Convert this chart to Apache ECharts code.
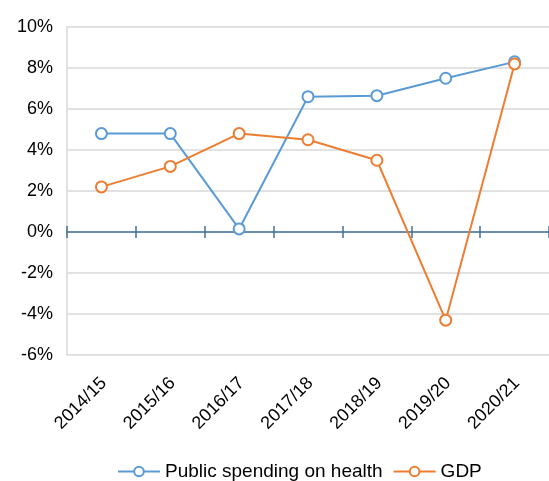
<!DOCTYPE html>
<html>
<head>
<meta charset="utf-8">
<script src="https://cdn.jsdelivr.net/npm/echarts@6/dist/echarts.min.js"></script>
<style>
  html, body { margin: 0; padding: 0; background: #fff; }
  #chart { width: 549px; height: 481px; }
</style>
</head>
<body>
<div id="chart"></div>
<script>
// Annual growth rates, per financial year
const years = ['2014/15', '2015/16', '2016/17', '2017/18', '2018/19', '2019/20', '2020/21'];
const healthSpending = [4.8, 4.8, 0.15, 6.6, 6.65, 7.5, 8.3];
const gdp = [2.2, 3.2, 4.8, 4.5, 3.5, -4.3, 8.2];
const yTicks = { min: -6, max: 10, step: 2 };

const FONT = '"Liberation Sans", Arial, sans-serif';
const AXIS_BLUE = '#41719c';
const GRID = { left: 67, right: 0, top: 27, bottom: 126 };
const HEIGHT = 481;

const chart = echarts.init(document.getElementById('chart'), null, { renderer: 'canvas' });

// Category axis on the zero line, ticks pointing down
const mainAxis = {
  type: 'category',
  data: years,
  position: 'bottom',
  boundaryGap: true,
  axisLine: { show: true, onZero: true, lineStyle: { color: AXIS_BLUE, width: 1.5 } },
  axisTick: { show: true, inside: false, length: 6, lineStyle: { color: AXIS_BLUE, width: 1.5 } },
  axisLabel: { show: false },
  splitLine: { show: false }
};
// Companion axis carrying the upward half of each tick; moved onto the zero line below
const tickAxis = {
  type: 'category',
  data: years,
  position: 'bottom',
  boundaryGap: true,
  offset: 0,
  axisLine: { show: false, onZero: false },
  axisTick: { show: true, inside: true, length: 6, lineStyle: { color: AXIS_BLUE, width: 1.5 } },
  axisLabel: { show: false },
  splitLine: { show: false }
};

chart.setOption({
  animation: false,
  grid: Object.assign({ containLabel: false }, GRID),
  legend: {
    top: 457,
    left: 112,
    itemWidth: 42,
    itemHeight: 12,
    itemGap: 10,
    textStyle: { fontFamily: FONT, fontSize: 19, color: '#000' },
    data: ['Public spending on health', 'GDP']
  },
  xAxis: [mainAxis, tickAxis],
  yAxis: {
    type: 'value',
    min: yTicks.min,
    max: yTicks.max,
    interval: yTicks.step,
    axisLine: { show: true, lineStyle: { color: '#d9d9d9', width: 1.5 } },
    axisTick: { show: false },
    axisLabel: {
      formatter: v => v + '%',
      color: '#000', fontFamily: FONT, fontSize: 18, margin: 14
    },
    splitLine: { show: true, lineStyle: { color: '#d9d9d9', width: 1.5 } }
  },
  series: [
    {
      name: 'Public spending on health',
      type: 'line',
      data: healthSpending,
      lineStyle: { width: 2, color: '#5b9bd5' },
      symbol: 'circle',
      symbolSize: 11,
      itemStyle: { color: '#fff', borderColor: '#5b9bd5', borderWidth: 2 },
      z: 3
    },
    {
      name: 'GDP',
      type: 'line',
      data: gdp,
      lineStyle: { width: 2, color: '#ed7d31' },
      symbol: 'circle',
      symbolSize: 11,
      itemStyle: { color: '#fff', borderColor: '#ed7d31', borderWidth: 2 },
      z: 4
    }
  ]
});

// Lift the companion axis from the plot bottom up to the zero line
const plotBottom = HEIGHT - GRID.bottom;
const zeroY = chart.convertToPixel({ yAxisIndex: 0 }, 0);
chart.setOption({ xAxis: [{}, { offset: zeroY - plotBottom }] });

// Category labels along the bottom edge of the plot, rotated 45 degrees
const zr = chart.getZr();
const labelY = plotBottom + 19;
years.forEach((y) => {
  const x = chart.convertToPixel({ xAxisIndex: 0 }, y);
  zr.add(new echarts.graphic.Text({
    x: x - 4,
    y: labelY,
    rotation: Math.PI / 4,
    style: {
      text: y,
      fill: '#000',
      font: '18px ' + FONT,
      align: 'right',
      verticalAlign: 'top'
    }
  }));
});
</script>
</body>
</html>
